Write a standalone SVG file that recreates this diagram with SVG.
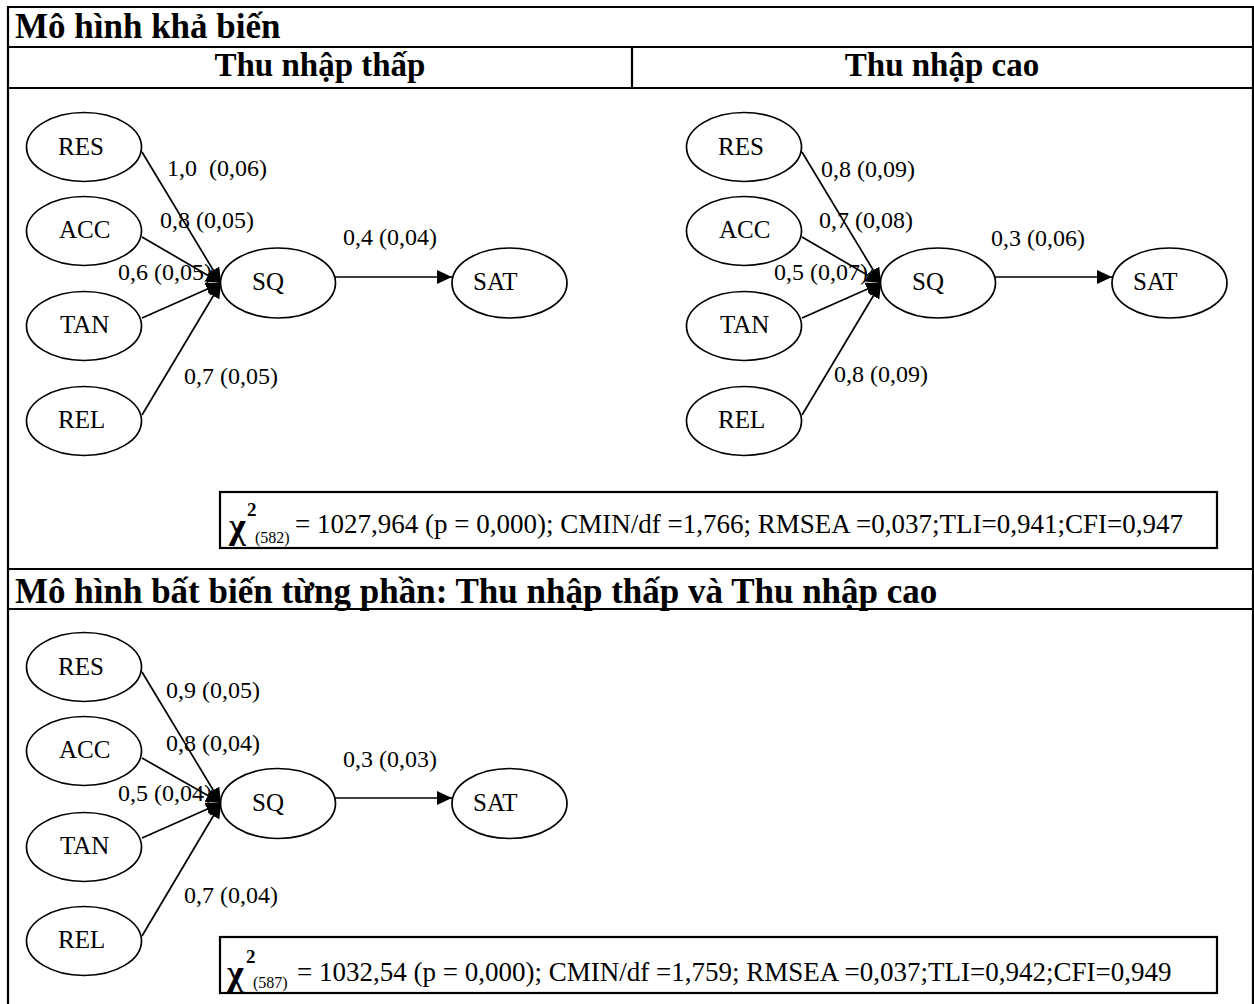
<svg xmlns="http://www.w3.org/2000/svg" width="1254" height="1004" viewBox="0 0 1254 1004">
  <style>
    .grid { stroke: #000; stroke-width: 2.2; fill: none; }
    .hdr { font-family: "Liberation Serif", "Times New Roman", serif; font-weight: bold; font-size: 33px; fill: #000; }
    .title { font-size: 35px; }
    .node ellipse { fill: #fff; stroke: #000; stroke-width: 1.7; }
    .node text { font-family: "Liberation Serif", "Times New Roman", serif; font-size: 25px; fill: #000; }
    .lbl { font-family: "Liberation Serif", "Times New Roman", serif; font-size: 24px; fill: #000; }
    .edge { stroke: #000; stroke-width: 1.7; fill: none; marker-end: url(#tip); }
    .fitbox { fill: #fff; stroke: #000; stroke-width: 2.2; }
    .fit { font-family: "Liberation Serif", "Times New Roman", serif; font-size: 27px; fill: #000; }
    .chi { font-family: "Liberation Serif", "Times New Roman", serif; font-weight: bold; font-size: 36px; }
    .sup { font-family: "Liberation Serif", "Times New Roman", serif; font-weight: bold; font-size: 19px; }
    .sub { font-family: "Liberation Serif", "Times New Roman", serif; font-size: 16px; }
  </style>
  <defs>
    <marker id="tip" markerUnits="userSpaceOnUse" markerWidth="16" markerHeight="15" refX="15" refY="7" orient="auto">
      <path d="M0,0 L15,7 L0,14 z" fill="#000"/>
    </marker>
  </defs>

  <rect width="1254" height="1004" fill="#fff"/>

  <!-- table frame -->
  <g id="table">
    <path class="grid" d="M8,1004 V7 H1253 V1004"/>
    <line class="grid" x1="8" y1="47" x2="1253" y2="47"/>
    <line class="grid" x1="8" y1="88" x2="1253" y2="88"/>
    <line class="grid" x1="632" y1="47" x2="632" y2="88"/>
    <line class="grid" x1="8" y1="569" x2="1253" y2="569"/>
    <line class="grid" x1="8" y1="609" x2="1253" y2="609"/>
    <text class="hdr title" x="15" y="38">Mô hình khả biến</text>
    <text class="hdr" x="320" y="76" text-anchor="middle">Thu nhập thấp</text>
    <text class="hdr" x="942" y="76" text-anchor="middle">Thu nhập cao</text>
    <text class="hdr title" x="15" y="603">Mô hình bất biến từng phần: Thu nhập thấp và Thu nhập cao</text>
  </g>

  <!-- path coefficients -->
  <g id="labels" class="lbl">
    <text x="167" y="176" xml:space="preserve">1,0  (0,06)</text>
    <text x="160" y="228">0,8 (0,05)</text>
    <text x="118" y="280">0,6 (0,05)</text>
    <text x="184" y="384">0,7 (0,05)</text>
    <text x="343" y="245">0,4 (0,04)</text>

    <text x="821" y="177">0,8 (0,09)</text>
    <text x="819" y="228">0,7 (0,08)</text>
    <text x="774" y="280">0,5 (0,07)</text>
    <text x="834" y="382">0,8 (0,09)</text>
    <text x="991" y="246">0,3 (0,06)</text>

    <text x="166" y="698">0,9 (0,05)</text>
    <text x="166" y="751">0,8 (0,04)</text>
    <text x="118" y="801">0,5 (0,04)</text>
    <text x="184" y="903">0,7 (0,04)</text>
    <text x="343" y="767">0,3 (0,03)</text>
  </g>

  <!-- connectors -->
  <g id="connectors">
    <line class="edge" x1="142" y1="152" x2="221" y2="283"/>
    <line class="edge" x1="142" y1="237" x2="221" y2="283"/>
    <line class="edge" x1="142" y1="318" x2="221" y2="283"/>
    <line class="edge" x1="142" y1="415" x2="221" y2="283"/>
    <line class="edge" x1="335" y1="277" x2="452" y2="277"/>

    <line class="edge" x1="802" y1="152" x2="881" y2="283"/>
    <line class="edge" x1="802" y1="237" x2="881" y2="283"/>
    <line class="edge" x1="802" y1="318" x2="881" y2="283"/>
    <line class="edge" x1="802" y1="415" x2="881" y2="283"/>
    <line class="edge" x1="995" y1="277" x2="1112" y2="277"/>

    <line class="edge" x1="142" y1="672" x2="221" y2="803"/>
    <line class="edge" x1="142" y1="758" x2="221" y2="803"/>
    <line class="edge" x1="142" y1="838" x2="221" y2="803"/>
    <line class="edge" x1="142" y1="936" x2="221" y2="803"/>
    <line class="edge" x1="335" y1="798" x2="452" y2="798"/>
  </g>

  <!-- low income, free model -->
  <g id="low-RES" class="node"><ellipse cx="84" cy="147" rx="57.5" ry="34.5"/><text x="58" y="155">RES</text></g>
  <g id="low-ACC" class="node"><ellipse cx="84" cy="231" rx="57.5" ry="34.5"/><text x="59" y="238">ACC</text></g>
  <g id="low-TAN" class="node"><ellipse cx="84" cy="326" rx="57.5" ry="34.5"/><text x="60" y="333">TAN</text></g>
  <g id="low-REL" class="node"><ellipse cx="84" cy="421" rx="57.5" ry="34.5"/><text x="58" y="428">REL</text></g>
  <g id="low-SQ" class="node"><ellipse cx="278" cy="283" rx="57.5" ry="35"/><text x="252" y="290">SQ</text></g>
  <g id="low-SAT" class="node"><ellipse cx="509.5" cy="283" rx="57.5" ry="35"/><text x="473" y="290">SAT</text></g>

  <!-- high income, free model -->
  <g id="high-RES" class="node"><ellipse cx="744" cy="147" rx="57.5" ry="34.5"/><text x="718" y="155">RES</text></g>
  <g id="high-ACC" class="node"><ellipse cx="744" cy="231" rx="57.5" ry="34.5"/><text x="719" y="238">ACC</text></g>
  <g id="high-TAN" class="node"><ellipse cx="744" cy="326" rx="57.5" ry="34.5"/><text x="720" y="333">TAN</text></g>
  <g id="high-REL" class="node"><ellipse cx="744" cy="421" rx="57.5" ry="34.5"/><text x="718" y="428">REL</text></g>
  <g id="high-SQ" class="node"><ellipse cx="938" cy="283" rx="57.5" ry="35"/><text x="912" y="290">SQ</text></g>
  <g id="high-SAT" class="node"><ellipse cx="1169.5" cy="283" rx="57.5" ry="35"/><text x="1133" y="290">SAT</text></g>

  <!-- partially invariant model -->
  <g id="inv-RES" class="node"><ellipse cx="84" cy="667" rx="57.5" ry="34.5"/><text x="58" y="675">RES</text></g>
  <g id="inv-ACC" class="node"><ellipse cx="84" cy="751" rx="57.5" ry="34.5"/><text x="59" y="758">ACC</text></g>
  <g id="inv-TAN" class="node"><ellipse cx="84" cy="847" rx="57.5" ry="34.5"/><text x="60" y="854">TAN</text></g>
  <g id="inv-REL" class="node"><ellipse cx="84" cy="941" rx="57.5" ry="34.5"/><text x="58" y="948">REL</text></g>
  <g id="inv-SQ" class="node"><ellipse cx="278" cy="803.5" rx="57.5" ry="35"/><text x="252" y="811">SQ</text></g>
  <g id="inv-SAT" class="node"><ellipse cx="509.5" cy="803.5" rx="57.5" ry="35"/><text x="473" y="811">SAT</text></g>

  <!-- fit statistics -->
  <g id="fit-free">
    <rect class="fitbox" x="220" y="492" width="997" height="56"/>
    <text class="chi" x="229" y="538">χ</text>
    <text class="sup" x="247" y="516">2</text>
    <text class="sub" x="255" y="543">(582)</text>
    <text class="fit" x="295" y="533">= 1027,964 (p = 0,000); CMIN/df =1,766; RMSEA =0,037;TLI=0,941;CFI=0,947</text>
  </g>
  <g id="fit-invariant">
    <rect class="fitbox" x="220" y="937" width="997" height="56"/>
    <text class="chi" x="227" y="985">χ</text>
    <text class="sup" x="246" y="963">2</text>
    <text class="sub" x="253" y="988">(587)</text>
    <text class="fit" x="297" y="981">= 1032,54 (p = 0,000); CMIN/df =1,759; RMSEA =0,037;TLI=0,942;CFI=0,949</text>
  </g>
</svg>
